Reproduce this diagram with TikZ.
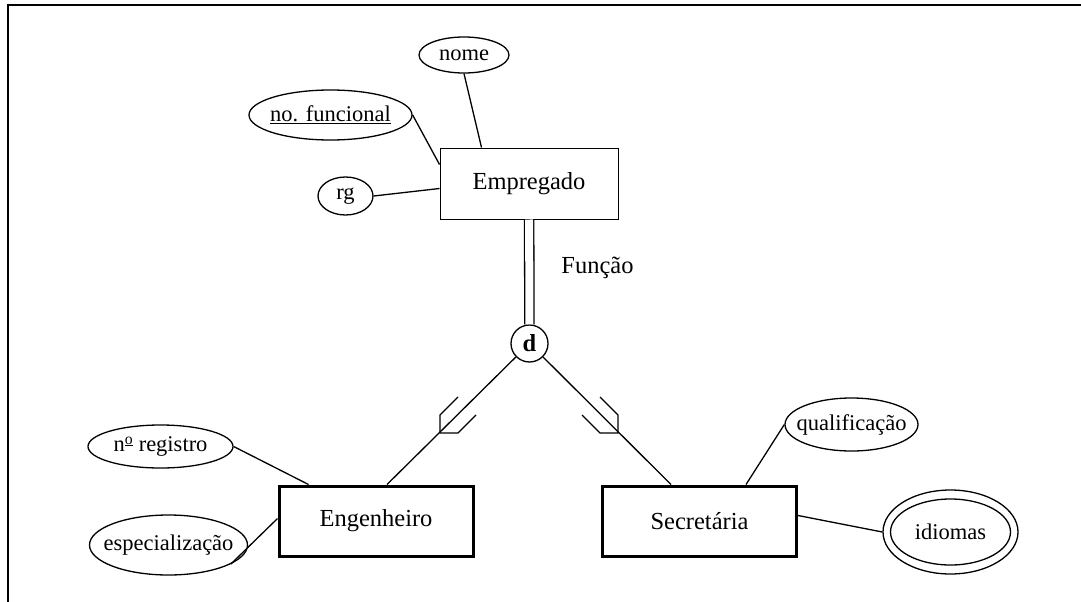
\documentclass[tikz,border=0pt]{standalone}
\usepackage{fontspec}
\setmainfont{Liberation Serif}
\usetikzlibrary{shapes.geometric,calc}
\begin{document}
\begin{tikzpicture}[x=1pt,y=-1pt,
  thin line/.style={line width=1.3pt},
  attr/.style={ellipse,draw,line width=1.3pt,inner sep=0pt,
    label={[font=\fontsize{22.5}{26}\selectfont,inner sep=0pt]center:#1}},
  weakent/.style={rectangle,draw,line width=3pt,minimum width=194pt,minimum height=70pt,inner sep=0pt,font=\fontsize{24.5}{28}\selectfont},
  strongent/.style={rectangle,draw,line width=1pt,minimum width=178pt,minimum height=71pt,inner sep=0pt,font=\fontsize{24.5}{28}\selectfont},
  subsetmark/.style={line width=1.3pt,line join=miter}]
\useasboundingbox (0,0) rectangle (1081,602);
% frame
\draw[line width=2pt] (8,602) -- (8,5) -- (1081,5);
% entities
\node[strongent] (emp) at (529,183.5) {Empregado};
\node[weakent] (eng) at (376,521) {Engenheiro};
\node[weakent] (sec) at (699.5,521) {Secretária};
% attributes
\node[attr=nome,minimum width=90pt,minimum height=36pt] (nome) at (464,55) {};
\node[attr={\underline{no. funcional}},minimum width=163pt,minimum height=50pt] (nfunc) at (330.5,115) {};
\node[attr=rg,minimum width=55pt,minimum height=38pt] (rg) at (345.5,196) {};
\node[attr={n\textsuperscript{\underline{o}} registro},minimum width=145pt,minimum height=43pt] (nreg) at (160.5,446.5) {};
\node[attr=especialização,minimum width=158pt,minimum height=60pt] (espec) at (168.5,545) {};
\node[attr=qualificação,minimum width=133pt,minimum height=53pt] (qual) at (851.5,424.5) {};
\node[ellipse,draw,line width=1.3pt,inner sep=0pt,minimum width=135pt,minimum height=84pt] (idiout) at (950.5,532) {};
\node[attr=idiomas,minimum width=120pt,minimum height=66pt] (idi) at (idiout.center) {};
% disjoint circle
\node[circle,draw,line width=1.3pt,minimum size=37pt,inner sep=0pt,font=\fontsize{24.5}{28}\selectfont\bfseries] (d) at (529.5,343.5) {d};
\node[font=\fontsize{24.5}{28}\selectfont] (func) at (597.5,268) {Função};
% attribute connectors
\coordinate (empN) at ($(emp.north west)+(42,0)$);
\coordinate (empW1) at ($(emp.north west)+(0,17)$);
\coordinate (empW2) at ($(emp.north west)+(0,41)$);
\draw[thin line] (nome.south) -- (empN);
\draw[thin line] (nfunc.east) -- (empW1);
\draw[thin line] (rg.east) -- (empW2);
\coordinate (engN) at ($(eng.north west)+(31,0)$);
\coordinate (engW) at ($(eng.north west)+(0,34)$);
\draw[thin line] (nreg.east) -- (engN);
\draw[thin line] (espec.-17) -- (engW);
\coordinate (secN) at ($(sec.north west)+(145,0)$);
\coordinate (secE) at ($(sec.north east)+(0,31)$);
\draw[thin line] (qual.west) -- (secN);
\draw[thin line] (secE) -- (idiout.west);
% specialization connectors
\draw[line width=1.3pt,double,double distance=8pt] (emp) -- (d);
\coordinate (engT) at ($(eng.north)+(11,0)$);
\coordinate (secT) at ($(sec.north)+(-28.5,0)$);
\draw[thin line] (d) -- (engT);
\draw[thin line] (d) -- (secT);
% subset marks
\coordinate (vl) at (440,433);
\coordinate (vr) at (618,433);
\draw[subsetmark] ($(vl)+(18,-36)$) -- ($(vl)+(0,-18)$) -- (vl) -- ($(vl)+(18,0)$) -- ($(vl)+(36,-18)$);
\draw[subsetmark] ($(vr)+(-18,-36)$) -- ($(vr)+(0,-18)$) -- (vr) -- ($(vr)+(-18,0)$) -- ($(vr)+(-36,-18)$);
\end{tikzpicture}
\end{document}
